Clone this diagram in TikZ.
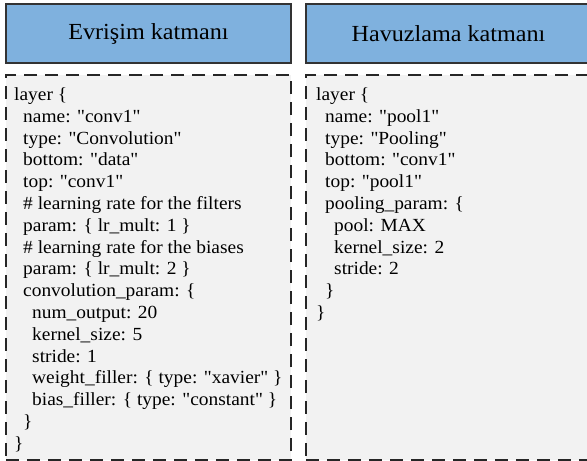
\documentclass[tikz,border=0pt]{standalone}
\usepackage{fontspec}
\setmainfont{Liberation Serif}[FakeStretch=1.05, Ligatures=TeXOff]
\usetikzlibrary{positioning}
\definecolor{headblue}{RGB}{127,177,222}
\definecolor{codegray}{RGB}{242,242,242}
\tikzset{
  header/.style={draw=black!80, line width=1.1pt, fill=headblue, minimum width=285pt, minimum height=59pt, inner sep=0pt, font=\fontsize{23}{25}\selectfont},
  codebox/.style={draw=black!85, line width=1.2pt, dash pattern=on 13pt off 8pt, fill=codegray, minimum width=285pt, minimum height=385pt, inner sep=0pt},
  code/.style={anchor=north west, align=left, inner sep=0pt, font=\fontsize{18.5}{21.8}\selectfont}
}
\newcommand{\ia}{\hspace*{9pt}}
\newcommand{\ib}{\hspace*{18pt}}

\begin{document}
\begin{tikzpicture}[x=1pt,y=-1pt]
  \useasboundingbox (0,0) rectangle (587,461);

  \node[header] (convhead) at (148.5,33.5) {Evrişim katmanı};
  \node[header] (poolhead) at (448.5,33.5) {Havuzlama katmanı};

  \node[codebox] (convbox) at (148.5,267.5) {};
  \node[codebox] (poolbox) at (448.5,267.5) {};

  \node[code] (convcode) at (14,87.5) {layer \{\\
    \ia name: "conv1"\\
    \ia type: "Convolution"\\
    \ia bottom: "data"\\
    \ia top: "conv1"\\
    \ia \# learning rate for the filters\\
    \ia param: \{ lr\_mult: 1 \}\\
    \ia \# learning rate for the biases\\
    \ia param: \{ lr\_mult: 2 \}\\
    \ia convolution\_param: \{\\
    \ib num\_output: 20\\
    \ib kernel\_size: 5\\
    \ib stride: 1\\
    \ib weight\_filler: \{ type: "xavier" \}\\
    \ib bias\_filler: \{ type: "constant" \}\\
    \ia \}\\
    \}};

  \node[code] (poolcode) at (316,87.5) {layer \{\\
    \ia name: "pool1"\\
    \ia type: "Pooling"\\
    \ia bottom: "conv1"\\
    \ia top: "pool1"\\
    \ia pooling\_param: \{\\
    \ib pool: MAX\\
    \ib kernel\_size: 2\\
    \ib stride: 2\\
    \ia \}\\
    \}};
\end{tikzpicture}
\end{document}
